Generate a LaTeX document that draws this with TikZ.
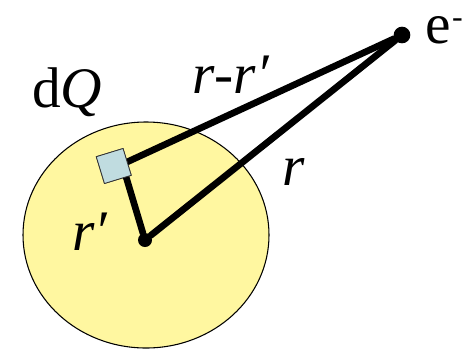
\documentclass[tikz,border=0pt]{standalone}
\usepackage{fontspec}
\setmainfont{Liberation Serif}[ItalicFont={Liberation Serif Italic}]
\usetikzlibrary{calc}
\definecolor{ballyellow}{RGB}{255,247,160}
\definecolor{chargeblue}{RGB}{192,220,224}
\begin{document}
\begin{tikzpicture}[x=0.75pt,y=-0.75pt,
  dotnode/.style={circle,fill=black,inner sep=0pt},
  vec/.style={line width=5pt,line cap=round},
  lbl/.style={inner sep=0pt,anchor=base west,font=\fontsize{43}{50}\selectfont}]
\useasboundingbox (0,0) rectangle (473,350);
\draw[fill=ballyellow,line width=0.8pt] (146,235) ellipse [x radius=92.25pt,y radius=84.75pt];
\node[dotnode,minimum size=10.5pt] (c) at (145,240) {};
\node[dotnode,minimum size=12.5pt] (e) at (402,35) {};
\node[draw=black!80,fill=chargeblue,line width=0.6pt,minimum size=21pt,inner sep=0pt,rotate=17] (q) at (113.75,166) {};
\coordinate (qa) at ($(q.center)!0.6!(q.south east)$);
\draw[vec] (c) -- (e);
\draw[vec] (q.east) -- (e);
\draw[vec] (qa) -- (c);
\node[draw=black!80,fill=chargeblue,line width=0.6pt,minimum size=21pt,inner sep=0pt,rotate=17] at (q.center) {};
\node[lbl] (le) at (425,43) {e\kern1pt\raisebox{12pt}{\fontsize{24}{24}\selectfont -}};
\node[lbl] (ldq) at (32,107) {d\textit{Q}};
\node[lbl] (lrr) at (192,93) {\textit{r}-\textit{r′}};
\node[lbl] (lr) at (282,185) {\textit{r}};
\node[lbl] (lrp) at (72,250) {\textit{r′}};
\end{tikzpicture}
\end{document}
